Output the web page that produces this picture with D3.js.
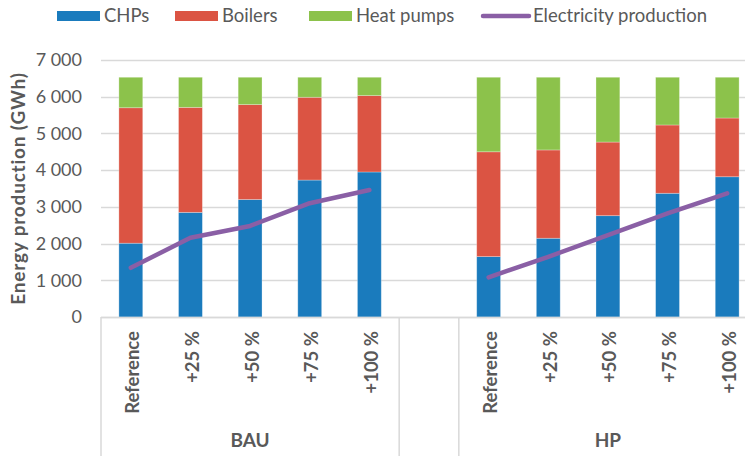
<!DOCTYPE html>
<html>
  <head>
    <meta charset="utf-8">
    <title>Energy production</title>
    <script src="https://cdn.jsdelivr.net/npm/d3@7"></script>
    <style>
      body { margin: 0; background: #fff; }
      text { font-family: Lato, "Open Sans", sans-serif; fill: #595959; }
    </style>
  </head>
  <body>
    <svg width="745" height="456" id="mainsvg"></svg>
    <script>
        // @data
        const groups = ['BAU', 'HP'];
        const categories = ['Reference', '+25 %', '+50 %', '+75 %', '+100 %'];
        const chpsBAU = [2010, 2850, 3200, 3730, 3950];
        const boilersBAU = [3690, 2860, 2585, 2255, 2080];
        const heatPumpsBAU = [830, 820, 745, 545, 500];
        const electricityBAU = [1340, 2160, 2480, 3100, 3460];
        const chpsHP = [1645, 2145, 2760, 3370, 3820];
        const boilersHP = [2855, 2405, 2005, 1860, 1600];
        const heatPumpsHP = [2030, 1980, 1765, 1300, 1110];
        const electricityHP = [1080, 1640, 2230, 2820, 3370];
        const yTicks = [0, 1000, 2000, 3000, 4000, 5000, 6000, 7000];

        const series = ['CHPs', 'Boilers', 'Heat pumps'];
        const colors = {'CHPs': '#1a7bbd', 'Boilers': '#db5443', 'Heat pumps': '#8cc24b'};
        const lineColor = '#8a5fa5';

        // @canvas
        const svg = d3.select('#mainsvg');
        const plot = {left: 101, right: 757, top: 60, bottom: 317};

        // build rows: BAU x5, one empty slot, HP x5
        const rows = [];
        const byGroup = {
            BAU: [chpsBAU, boilersBAU, heatPumpsBAU, electricityBAU],
            HP: [chpsHP, boilersHP, heatPumpsHP, electricityHP]
        };
        groups.forEach((g, gi) => {
            categories.forEach((c, i) => {
                const [ch, bo, hp, el] = byGroup[g];
                rows.push({key: g + '|' + c, group: g, cat: c,
                    'CHPs': ch[i], 'Boilers': bo[i], 'Heat pumps': hp[i], elec: el[i]});
            });
            if (gi === 0) rows.push({key: 'gap', group: null});
        });
        const dataRows = rows.filter(d => d.group);

        const x = d3.scaleBand()
            .domain(rows.map(d => d.key))
            .range([plot.left, plot.right])
            .paddingInner(0.6)
            .paddingOuter(0.3);
        const y = d3.scaleLinear().domain([0, 7000]).range([plot.bottom, plot.top]);

        // gridlines
        svg.append('g').selectAll('line')
            .data(yTicks)
            .join('line')
            .attr('x1', plot.left).attr('x2', 745)
            .attr('y1', d => Math.round(y(d)) + 0.5).attr('y2', d => Math.round(y(d)) + 0.5)
            .attr('stroke', '#d9d9d9').attr('stroke-width', 1.5);

        // y tick labels
        const fmt = d => d3.format(',')(d).replace(',', ' ');
        svg.append('g').selectAll('text')
            .data(yTicks)
            .join('text')
            .attr('x', 82)
            .attr('y', d => y(d))
            .attr('dy', '0.35em')
            .attr('text-anchor', 'end')
            .style('font-size', '18px')
            .text(fmt);

        // y axis title
        svg.append('text')
            .attr('transform', `translate(25, ${(plot.top + plot.bottom) / 2}) rotate(-90)`)
            .attr('text-anchor', 'middle')
            .style('font-size', '19px')
            .style('font-weight', 'bold')
            .style('letter-spacing', '0.8px')
            .text('Energy production (GWh)');

        // stacked bars
        const stack = d3.stack().keys(series)(dataRows);
        svg.append('g').selectAll('g')
            .data(stack)
            .join('g')
            .attr('fill', d => colors[d.key])
            .selectAll('rect')
            .data(d => d)
            .join('rect')
            .attr('x', d => x(d.data.key))
            .attr('width', x.bandwidth())
            .attr('y', d => y(d[1]))
            .attr('height', d => y(d[0]) - y(d[1]))
            .attr('stroke', '#ffffff')
            .attr('stroke-opacity', 0.35)
            .attr('stroke-width', 0.8);

        // electricity lines (one per group)
        const line = d3.line()
            .x(d => x(d.key) + x.bandwidth() / 2)
            .y(d => y(d.elec));
        groups.forEach(g => {
            svg.append('path')
                .datum(dataRows.filter(d => d.group === g))
                .attr('d', line)
                .attr('fill', 'none')
                .attr('stroke', lineColor)
                .attr('stroke-width', 4.5)
                .attr('stroke-linecap', 'round')
                .attr('stroke-linejoin', 'round');
        });

        // category axis: baseline + separators
        svg.append('line')
            .attr('x1', plot.left).attr('x2', 745)
            .attr('y1', plot.bottom + 0.5).attr('y2', plot.bottom + 0.5)
            .attr('stroke', '#d9d9d9').attr('stroke-width', 1.5);
        const step = x.step();
        const separators = [plot.left, plot.left + 5 * step, plot.left + 6 * step, plot.right];
        svg.append('g').selectAll('line')
            .data(separators)
            .join('line')
            .attr('x1', d => d).attr('x2', d => d)
            .attr('y1', plot.bottom).attr('y2', 456)
            .attr('stroke', '#d9d9d9').attr('stroke-width', 1.5);

        // category labels
        svg.append('g').selectAll('text')
            .data(dataRows)
            .join('text')
            .attr('transform', d => `translate(${x(d.key) + x.bandwidth() / 2 + 2}, 331) rotate(-90)`)
            .attr('dy', '0.35em')
            .attr('text-anchor', 'end')
            .style('font-size', '18.5px')
            .style('font-weight', 'bold')
            .text(d => d.cat);

        // group labels
        svg.append('g').selectAll('text')
            .data(groups)
            .join('text')
            .attr('x', (d, i) => i === 0 ? (separators[0] + separators[1]) / 2 : (separators[2] + separators[3]) / 2)
            .attr('y', 447)
            .attr('text-anchor', 'middle')
            .style('font-size', '19px')
            .style('font-weight', 'bold')
            .text(d => d);

        // legend
        const legendItems = [
            {name: 'CHPs', x: 57, type: 'rect'},
            {name: 'Boilers', x: 175, type: 'rect'},
            {name: 'Heat pumps', x: 309, type: 'rect'},
            {name: 'Electricity production', x: 483, type: 'line'}
        ];
        const legend = svg.append('g').selectAll('g')
            .data(legendItems)
            .join('g')
            .attr('transform', d => `translate(${d.x}, 0)`);
        legend.filter(d => d.type === 'rect').append('rect')
            .attr('y', 11).attr('width', 43).attr('height', 10)
            .attr('fill', d => colors[d.name]);
        legend.filter(d => d.type === 'line').append('line')
            .attr('x1', 0).attr('x2', 46).attr('y1', 16).attr('y2', 16)
            .attr('stroke', lineColor).attr('stroke-width', 4.5)
            .attr('stroke-linecap', 'round');
        legend.append('text')
            .attr('x', d => d.type === 'rect' ? 47 : 50)
            .attr('y', 16)
            .attr('dy', '0.35em')
            .style('font-size', '18.5px')
            .text(d => d.name);
    </script>
  </body>
</html>
